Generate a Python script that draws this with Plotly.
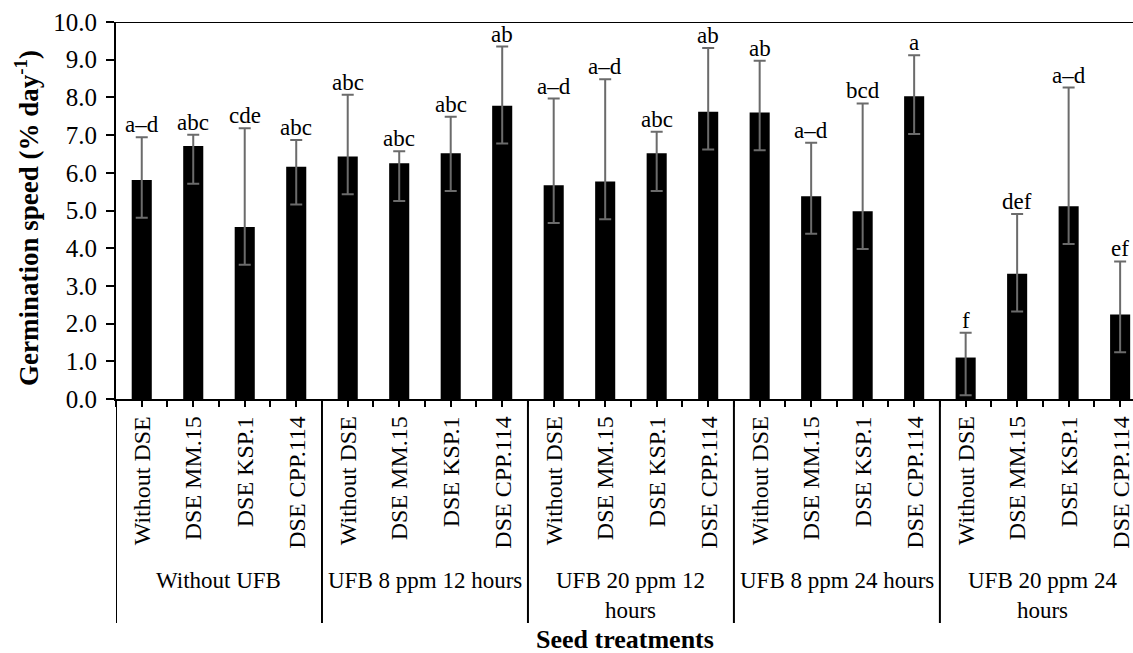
import plotly.graph_objects as go

# ---- data ----
groups = ["Without UFB", "UFB 8 ppm 12 hours", "UFB 20 ppm 12<br>hours",
          "UFB 8 ppm 24 hours", "UFB 20 ppm 24<br>hours"]
dse = ["Without DSE", "DSE MM.15", "DSE KSP.1", "DSE CPP.114"]
speed = [5.81, 6.71, 4.56, 6.16,
         6.43, 6.25, 6.52, 7.78,
         5.67, 5.77, 6.52, 7.62,
         7.60, 5.38, 4.98, 8.03,
         1.10, 3.32, 5.11, 2.24]
err_plus = [1.13, 0.30, 2.62, 0.71,
            1.64, 0.32, 0.97, 1.57,
            2.30, 2.71, 0.57, 1.69,
            1.37, 1.42, 2.86, 1.09,
            0.66, 1.59, 3.15, 1.41]
err_minus = [1.0] * 20
letters = ["a–d", "abc", "cde", "abc",
           "abc", "abc", "abc", "ab",
           "a–d", "a–d", "abc", "ab",
           "ab", "a–d", "bcd", "a",
           "f", "def", "a–d", "ef"]
y_ticks = [0, 1, 2, 3, 4, 5, 6, 7, 8, 9, 10]

FONT = "Liberation Serif"
W, H = 1133, 653
ML, MR, MT, MB = 116, 0, 22, 254
plot_h = H - MT - MB
plot_w = W - ML - MR

n_per = len(dse)
n = len(speed)
xs = list(range(n))
cat_labels = [dse[i % n_per] for i in range(n)]


def py(pix):
    """pixel y (from top) -> paper y"""
    return (H - MB - pix) / plot_h


def px(pix):
    """pixel x (from left) -> paper x"""
    return (pix - ML) / plot_w


fig = go.Figure()
fig.add_trace(go.Bar(
    x=xs, y=speed, width=0.39,
    marker=dict(color="#000000", line=dict(width=0)),
    error_y=dict(type="data", symmetric=False, array=err_plus, arrayminus=err_minus,
                 color="#6b6b6b", thickness=2, width=6),
    showlegend=False, hoverinfo="skip",
))

annotations = []
# significance letters
for x, v, e, t in zip(xs, speed, err_plus, letters):
    annotations.append(dict(x=x, y=v + e, xref="x", yref="y", text=t, showarrow=False,
                            xanchor="center", yanchor="bottom", yshift=-2,
                            font=dict(family=FONT, size=23, color="#000")))
# rotated category labels
for x, t in zip(xs, cat_labels):
    annotations.append(dict(x=x, y=py(414), xref="x", yref="paper", text=t, showarrow=False,
                            textangle=-90, xanchor="center", yanchor="top",
                            font=dict(family=FONT, size=24, color="#000")))
# group labels
for gi, g in enumerate(groups):
    cx = gi * n_per + (n_per - 1) / 2
    annotations.append(dict(x=cx, y=py(566), xref="x", yref="paper", text=g, showarrow=False,
                            xanchor="center", yanchor="top", align="center",
                            font=dict(family=FONT, size=23, color="#000")))
# axis titles
annotations.append(dict(x=0.5, y=py(639), xref="paper", yref="paper",
                        text="<b>Seed treatments</b>", showarrow=False,
                        xanchor="center", yanchor="middle",
                        font=dict(family=FONT, size=26, color="#000")))
annotations.append(dict(x=px(27), y=py(218), xref="paper", yref="paper", xanchor="center",
                        yanchor="middle", text="<b>Germination speed (% day<sup>-1</sup>)</b>",
                        showarrow=False, textangle=-90,
                        font=dict(family=FONT, size=27, color="#000")))

shapes = []
# top border line
shapes.append(dict(type="line", xref="paper", yref="y", x0=0, x1=1, y0=10, y1=10,
                   line=dict(color="#000", width=2)))
# group dividers
for gi in range(len(groups) + 1):
    xb = gi * n_per - 0.5
    if xb > n - 0.5 - 0.3:
        continue
    shapes.append(dict(type="line", xref="x", yref="paper", x0=xb, x1=xb,
                       y0=0, y1=py(623), line=dict(color="#000", width=2)))

tickvals_x = [i / 2 - 0.5 for i in range(2 * n)]

fig.update_layout(
    width=W, height=H,
    margin=dict(l=ML, r=MR, t=MT, b=MB, pad=0),
    plot_bgcolor="white", paper_bgcolor="white",
    bargap=0.6,
    font=dict(family=FONT, color="#000"),
    xaxis=dict(range=[-0.5, n - 0.75], tickvals=tickvals_x, ticktext=[""] * len(tickvals_x),
               ticks="outside", ticklen=6, tickwidth=2, tickcolor="#000",
               showline=True, linecolor="#000", linewidth=2, showgrid=False, zeroline=False),
    yaxis=dict(range=[0, 10], tickvals=y_ticks, ticktext=[f"{v:.1f}" for v in y_ticks],
               ticks="outside", ticklen=8, tickwidth=2, tickcolor="#000",
               tickfont=dict(family=FONT, size=25, color="#000"), ticklabelstandoff=4,
               showline=True, linecolor="#000", linewidth=2, showgrid=False, zeroline=False),
    annotations=annotations,
    shapes=shapes,
)

fig.write_html("out.html", config={"displayModeBar": False},
               post_script="document.body.style.margin='0';document.body.style.overflow='hidden';")
